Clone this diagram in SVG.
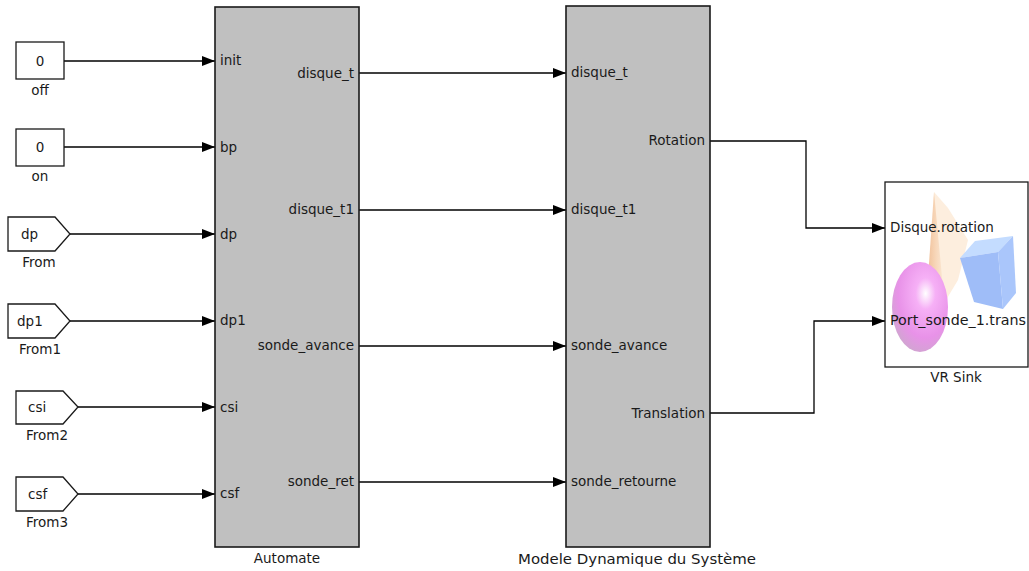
<svg xmlns="http://www.w3.org/2000/svg" width="1029" height="571" viewBox="0 0 1029 571">
  <style>
    .t { font-family: "DejaVu Sans", Verdana, sans-serif; font-size: 13.5px; fill: #1a1a1a; }
    .lbl { font-family: "DejaVu Sans", Verdana, sans-serif; font-size: 13.5px; fill: #1a1a1a; text-anchor: middle; }
    .r { text-anchor: end; }
    .m { text-anchor: middle; }
    .src { fill: #ffffff; stroke: #1a1a1a; stroke-width: 1.3; }
    .sub { fill: #c0c0c0; stroke: #1a1a1a; stroke-width: 1.6; }
    .wire { fill: none; stroke: #000; stroke-width: 1.3; marker-end: url(#arr); }
  </style>
  <defs>
    <marker id="arr" viewBox="0 0 13 10" refX="13" refY="5" markerWidth="13" markerHeight="10" markerUnits="userSpaceOnUse" orient="auto">
      <path d="M0,0 L13,5 L0,10 Z" fill="#000"/>
    </marker>
    <clipPath id="vrclip"><rect x="885" y="182" width="143" height="185"/></clipPath>
    <radialGradient id="pink" cx="0.6" cy="0.35" r="0.7">
      <stop offset="0" stop-color="#ffffff"/>
      <stop offset="0.25" stop-color="#f6b0f6"/>
      <stop offset="0.7" stop-color="#e892e8"/>
      <stop offset="1" stop-color="#cfa6cf"/>
    </radialGradient>
    <linearGradient id="cone" x1="0" y1="0" x2="1" y2="0">
      <stop offset="0" stop-color="#f0bf98"/>
      <stop offset="0.5" stop-color="#f7d6b8"/>
      <stop offset="1" stop-color="#fbe9d6"/>
    </linearGradient>
  </defs>

  <!-- connectors -->
  <g id="connectors">
    <path class="wire" d="M64,61 H215"/>
    <path class="wire" d="M64,147 H215"/>
    <path class="wire" d="M70,234 H215"/>
    <path class="wire" d="M70,321 H215"/>
    <path class="wire" d="M78,407 H215"/>
    <path class="wire" d="M78,494 H215"/>
    <path class="wire" d="M359,73 H566"/>
    <path class="wire" d="M359,210 H566"/>
    <path class="wire" d="M359,346 H566"/>
    <path class="wire" d="M359,482 H566"/>
    <path class="wire" d="M710,141 H806 V228 H885"/>
    <path class="wire" d="M710,413 H814 V321 H885"/>
  </g>

  <!-- constant sources -->
  <g id="off">
    <rect class="src" x="16" y="42" width="48" height="37"/>
    <text class="t m" x="40" y="66">0</text>
    <text class="lbl" x="40" y="95">off</text>
  </g>
  <g id="on">
    <rect class="src" x="16" y="129" width="48" height="37"/>
    <text class="t m" x="40" y="152">0</text>
    <text class="lbl" x="40" y="181">on</text>
  </g>

  <!-- From tags -->
  <g id="From">
    <path class="src" d="M8,217 H55 L70,234 L55,251 H8 Z"/>
    <text class="t" x="21" y="239">dp</text>
    <text class="lbl" x="39" y="267">From</text>
  </g>
  <g id="From1">
    <path class="src" d="M8,304 H55 L70,321 L55,338 H8 Z"/>
    <text class="t" x="17" y="326">dp1</text>
    <text class="lbl" x="40" y="354">From1</text>
  </g>
  <g id="From2">
    <path class="src" d="M16,391 H63 L78,407 L63,424 H16 Z"/>
    <text class="t" x="28" y="412">csi</text>
    <text class="lbl" x="47" y="440">From2</text>
  </g>
  <g id="From3">
    <path class="src" d="M16,477 H63 L78,494 L63,511 H16 Z"/>
    <text class="t" x="28" y="499">csf</text>
    <text class="lbl" x="47" y="527">From3</text>
  </g>

  <!-- state machine subsystem -->
  <g id="Automate">
    <rect class="sub" x="215" y="7" width="144" height="540"/>
    <text class="t" x="220" y="65">init</text>
    <text class="t" x="220" y="152">bp</text>
    <text class="t" x="220" y="239">dp</text>
    <text class="t" x="220" y="325">dp1</text>
    <text class="t" x="220" y="412">csi</text>
    <text class="t" x="220" y="498">csf</text>
    <text class="t r" x="354" y="78">disque_t</text>
    <text class="t r" x="354" y="214">disque_t1</text>
    <text class="t r" x="354" y="350">sonde_avance</text>
    <text class="t r" x="354" y="486">sonde_ret</text>
    <text class="lbl" x="287" y="563">Automate</text>
  </g>

  <!-- dynamic model subsystem -->
  <g id="ModeleDynamique">
    <rect class="sub" x="566" y="6" width="144" height="541"/>
    <text class="t" x="571" y="77">disque_t</text>
    <text class="t" x="571" y="214">disque_t1</text>
    <text class="t" x="571" y="350">sonde_avance</text>
    <text class="t" x="571" y="486">sonde_retourne</text>
    <text class="t r" x="705" y="145">Rotation</text>
    <text class="t r" x="705" y="418">Translation</text>
    <text class="lbl" x="637" y="564" textLength="238" lengthAdjust="spacingAndGlyphs">Modele Dynamique du Système</text>
  </g>

  <!-- virtual reality sink -->
  <g id="VRSink">
    <rect x="885" y="182" width="143" height="185" fill="#ffffff" stroke="#1a1a1a" stroke-width="1.3"/>
    <g clip-path="url(#vrclip)">
      <path d="M934,192 L948,208 L968,240 L958,280 L946,300 L930,296 Z" fill="#fdeede"/>
      <path d="M934,192 L944,298 L930,298 L927,292 Z" fill="url(#cone)"/>
      <ellipse cx="920" cy="307" rx="28" ry="45" fill="url(#pink)"/>
      <path d="M960,258 L975,241 L1013,236 L998,252 Z" fill="#c4dcff"/>
      <path d="M960,258 L998,252 L1003,309 L974,302 Z" fill="#9fbdf8"/>
      <path d="M998,252 L1013,236 L1016,293 L1003,309 Z" fill="#aac6fb"/>
    </g>
    <text class="t" x="890" y="232">Disque.rotation</text>
    <text class="t" x="890" y="325" textLength="136" lengthAdjust="spacingAndGlyphs">Port_sonde_1.trans</text>
    <text class="lbl" x="956" y="382">VR Sink</text>
  </g>
</svg>
